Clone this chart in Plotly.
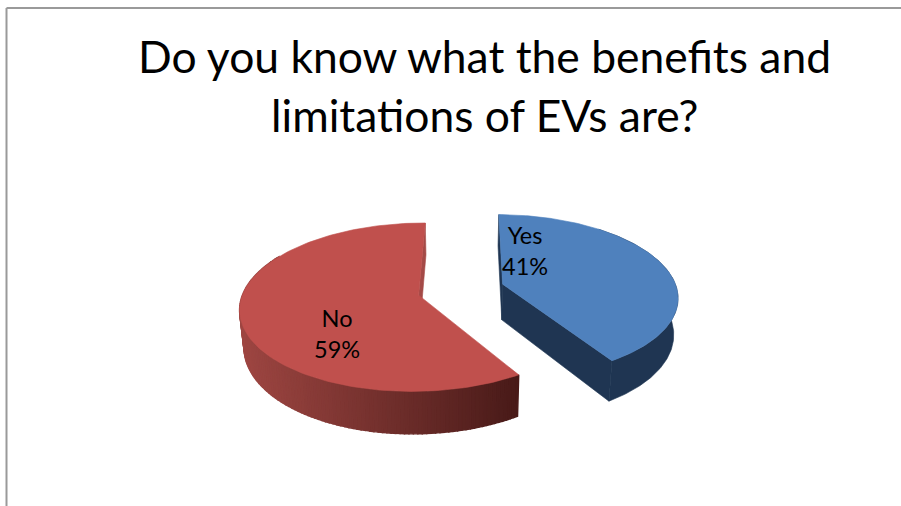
import numpy as np
import plotly.graph_objects as go

# Survey results
categories = ["Yes", "No"]
values = [41, 59]
top_colors = ["#4f81bd", "#c0504d"]
title_lines = ["Do you know what the benefits and", "limitations of EVs are?"]

# Projection of the tilted, exploded pie onto the 901x506 canvas
VIEW_X, VIEW_Y = 461.0, 289.6
RADIUS_X, RADIUS_Y = 174.5, 80.9
PERSPECTIVE = 0.142
DEPTH = 36.0
BASE_SHRINK = 0.98
EXPLODE = 0.25
START_ANGLE = 0.5


def project(x, y, lower=False):
    x, y = np.asarray(x, float), np.asarray(y, float)
    s = 1.0 / (1.0 - PERSPECTIVE * y)
    k = BASE_SHRINK if lower else 1.0
    sx = VIEW_X + RADIUS_X * x * s * k
    sy = VIEW_Y + RADIUS_Y * y * s + (DEPTH * s if lower else 0.0)
    return sx, sy


def rim(center, a0, a1, n=160):
    t = np.radians(np.linspace(a0, a1, n))
    return center[0] + np.sin(t), center[1] - np.cos(t)


def polygon(xs, ys, color, width=0.6):
    fig.add_trace(go.Scatter(
        x=np.append(xs, xs[0]), y=np.append(ys, ys[0]), mode="lines",
        fill="toself", fillcolor=color, line=dict(color=color, width=width),
        hoverinfo="skip", showlegend=False,
    ))


def mix(c0, c1, t):
    return "rgb(%d,%d,%d)" % tuple(round(a + (b - a) * t) for a, b in zip(c0, c1))


fig = go.Figure()

# Slice angles, clockwise from twelve o'clock
total = sum(values)
spans = np.array(values) / total * 360
edges = START_ANGLE + np.concatenate([[0], np.cumsum(spans)])
bisect = np.radians((edges[:-1] + edges[1:]) / 2)
centers = [(EXPLODE * np.sin(b), -EXPLODE * np.cos(b)) for b in bisect]

blue_wall = "#1f3552"
red_cut = "#a44a47"
red_left, red_right = (158, 70, 66), (72, 26, 24)

# Blue slice: cut faces, outer wall, then the top surface
c = centers[0]
a0, a1 = edges[0], edges[1]
for ang in (a0, a1):
    ex, ey = rim(c, ang, ang, 1)
    ux, uy = project([ex[0], c[0]], [ey[0], c[1]])
    lx, ly = project([c[0], ex[0]], [c[1], ey[0]], lower=True)
    polygon(np.r_[ux, lx], np.r_[uy, ly], blue_wall)
rx, ry = rim(c, 40, a1)
ux, uy = project(rx, ry)
lx, ly = project(rx, ry, lower=True)
polygon(np.r_[ux, lx[::-1]], np.r_[uy, ly[::-1]], blue_wall)
rx, ry = rim(c, a0, a1)
ux, uy = project(np.r_[c[0], rx], np.r_[c[1], ry])
polygon(ux, uy, top_colors[0])

# Red slice: back cut face, shaded outer wall, then the top surface
c = centers[1]
a0, a1 = edges[1], edges[2]
ex, ey = rim(c, a1, a1, 1)
ux, uy = project([ex[0], c[0]], [ey[0], c[1]])
lx, ly = project([c[0], ex[0]], [c[1], ey[0]], lower=True)
polygon(np.r_[ux, lx], np.r_[uy, ly], red_cut)

rx, ry = rim(c, a0, 300, 121)
ux, uy = project(rx, ry)
lx, ly = project(rx, ry, lower=True)
xmin, xmax = ux.min(), ux.max()
for i in range(len(rx) - 1):
    t = ((ux[i] + ux[i + 1]) / 2 - xmin) / (xmax - xmin)
    polygon(np.array([ux[i], ux[i + 1], lx[i + 1], lx[i]]),
            np.array([uy[i], uy[i + 1], ly[i + 1], ly[i]]),
            mix(red_left, red_right, t), width=1.4)
rx, ry = rim(c, a0, a1)
ux, uy = project(np.r_[c[0], rx], np.r_[c[1], ry])
polygon(ux, uy, top_colors[1])

# Slice labels
label_pos = [(524.5, 250.5), (336.5, 333.5)]
for name, val, (lx_, ly_) in zip(categories, values, label_pos):
    fig.add_annotation(
        x=lx_, y=ly_, text=f"{name}<br>{val}%", showarrow=False,
        font=dict(family="Lato, Carlito, Calibri, sans-serif", size=23.5, color="#000000"),
        align="center", xanchor="center", yanchor="middle",
    )

# Two-line heading
for line, yc in zip(title_lines, (55, 114)):
    fig.add_annotation(
        x=484, y=yc, text=line, showarrow=False,
        font=dict(family="Lato, Carlito, Calibri, sans-serif", size=44.4, color="#000000"),
        xanchor="center", yanchor="middle",
    )

# Frame along the top and left edges
frame = dict(type="line", line=dict(color="#9a9a9a", width=2), layer="below")
fig.add_shape(x0=6.5, x1=901, y0=8, y1=8, **frame)
fig.add_shape(x0=6.5, x1=6.5, y0=8, y1=506, **frame)

fig.update_layout(
    width=901, height=506, margin=dict(l=0, r=0, t=0, b=0),
    paper_bgcolor="white", plot_bgcolor="white", showlegend=False,
    xaxis=dict(range=[0, 901], visible=False, fixedrange=True),
    yaxis=dict(range=[506, 0], visible=False, fixedrange=True),
)
fig.write_html("out.html", config={"displayModeBar": False})
